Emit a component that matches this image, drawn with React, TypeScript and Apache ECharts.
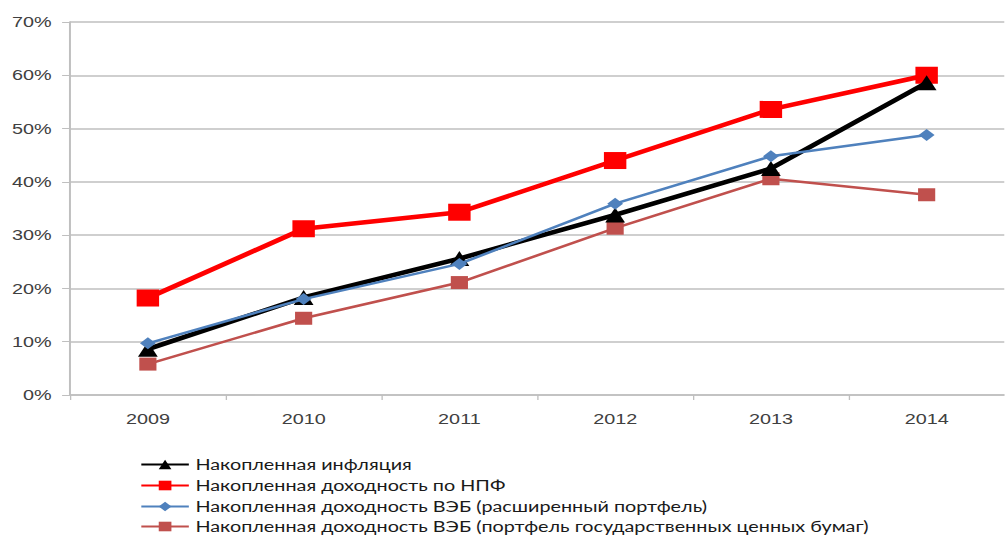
import React, { useEffect, useRef } from "react";
import * as echarts from "echarts";

const years = ["2009", "2010", "2011", "2012", "2013", "2014"];
const inflation = [8.6, 18.3, 25.6, 33.8, 42.5, 58.6];
const npf = [18.2, 31.2, 34.3, 44.0, 53.6, 60.0];
const vebExtended = [9.7, 18.0, 24.6, 35.9, 44.8, 48.8];
const vebGov = [5.8, 14.4, 21.1, 31.3, 40.6, 37.6];

const seriesNames = [
  "Накопленная инфляция",
  "Накопленная доходность по НПФ",
  "Накопленная доходность ВЭБ (расширенный портфель)",
  "Накопленная доходность ВЭБ (портфель государственных ценных бумаг)",
];

// the reference picture is stretched horizontally
const SX = 1.32;
const W = 1005 / SX;

export default function App() {
  const ref = useRef<HTMLDivElement>(null);
  useEffect(() => {
    if (!ref.current) return;
    const chart = echarts.init(ref.current, undefined, { renderer: "svg" });
    const mk = (
      name: string,
      data: number[],
      color: string,
      width: number,
      symbol: string,
      size: number,
      z: number
    ) => ({
      name,
      type: "line",
      data,
      symbol,
      symbolSize: size,
      showSymbol: true,
      z,
      lineStyle: { color, width },
      itemStyle: { color },
    });
    const legendTops = [457, 478, 499, 519];
    chart.setOption({
      animation: false,
      backgroundColor: "#ffffff",
      grid: { left: 70 / SX, top: 22, width: 946 / SX, height: 373, containLabel: false },
      xAxis: {
        type: "category",
        data: years,
        boundaryGap: true,
        axisLine: { lineStyle: { color: "#bfbfbf", width: 1.5 } },
        axisTick: { show: true, length: 5, lineStyle: { color: "#bfbfbf" } },
        axisLabel: {
          color: "#404040",
          fontSize: 15,
          fontFamily: "Liberation Sans, Arial, sans-serif",
          margin: 16,
        },
      },
      yAxis: {
        type: "value",
        min: 0,
        max: 70,
        interval: 10,
        axisLine: { show: true, lineStyle: { color: "#bfbfbf", width: 1.5 } },
        axisTick: { show: true, length: 6, lineStyle: { color: "#bfbfbf" } },
        splitLine: { lineStyle: { color: "#bfbfbf", width: 1.5 } },
        axisLabel: {
          formatter: "{value}%",
          color: "#404040",
          fontSize: 15,
          fontFamily: "Liberation Sans, Arial, sans-serif",
          margin: 14,
        },
      },
      legend: seriesNames.map((n, i) => ({
        orient: "vertical",
        left: 140 / SX,
        top: legendTops[i],
        itemWidth: 36,
        itemHeight: 12,
        itemGap: 4,
        padding: 0,
        textStyle: {
          fontSize: 15,
          color: "#1a1a1a",
          fontFamily: "Lato, sans-serif",
        },
        data: [n],
      })),
      series: [
        mk(seriesNames[1], npf, "#ff0000", 4.5, "rect", 17, 3),
        mk(seriesNames[0], inflation, "#000000", 4.5, "triangle", 15, 4),
        mk(seriesNames[2], vebExtended, "#4f81bd", 2.5, "diamond", 12, 5),
        mk(seriesNames[3], vebGov, "#c0504d", 2.5, "rect", 13, 2),
      ],
    });
    return () => chart.dispose();
  }, []);
  return (
    <div
      ref={ref}
      style={{
        position: "fixed",
        left: 0,
        top: 0,
        width: W,
        height: 536,
        transform: `scaleX(${SX})`,
        transformOrigin: "0 0",
      }}
    />
  );
}
